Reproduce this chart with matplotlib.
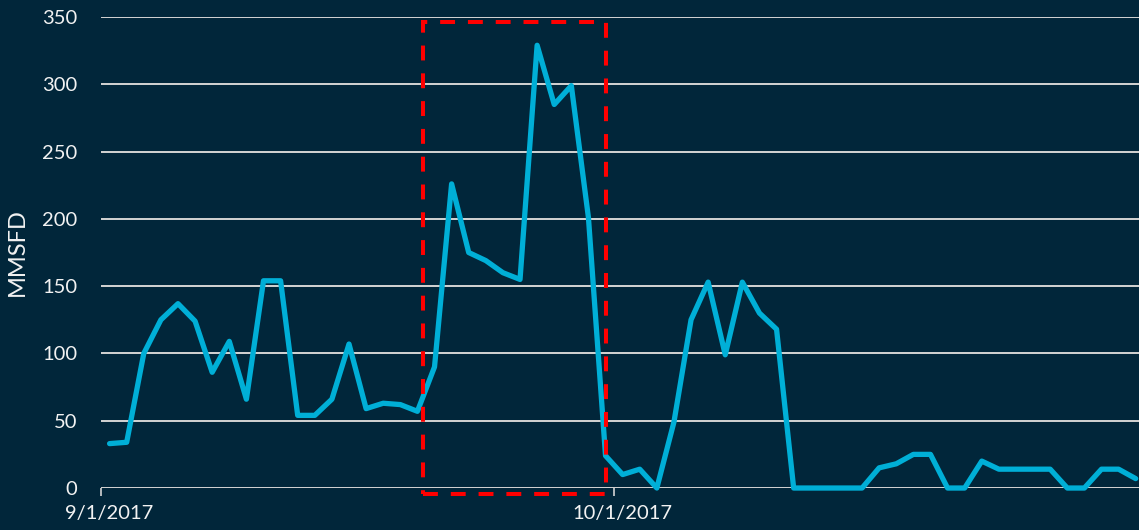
import pandas as pd
import matplotlib.pyplot as plt
import matplotlib.dates as mdates
import matplotlib.transforms as mtransforms
from matplotlib.patches import Rectangle

# daily flow, 9/1/2017 - 10/31/2017
start = "2017-09-01"
mmsfd = [33, 34, 100, 125, 137, 124, 86, 109, 66, 154,
         154, 54, 54, 66, 107, 59, 63, 62, 57, 90,
         226, 175, 169, 160, 155, 329, 285, 299, 201, 24,
         10, 14, 0, 49, 125, 153, 99, 153, 130, 118,
         0, 0, 0, 0, 0, 15, 18, 25, 25, 0,
         0, 20, 14, 14, 14, 14, 0, 0, 14, 14, 7]
xtick_dates = ["2017-09-01", "2017-10-01"]
yticks = [0, 50, 100, 150, 200, 250, 300, 350]
highlight = ("2017-09-19 20:00", "2017-09-30 12:00")

bg = "#01263A"
line_c = "#00AFD7"
grid_c = "#D4D4D4"
text_c = "#F2F2F2"


def main():
    dates = pd.date_range(start, periods=len(mmsfd), freq="D") + pd.Timedelta(hours=12)

    fig = plt.figure(figsize=(11.39, 5.30), dpi=100, facecolor=bg)
    ax = fig.add_axes([0.0887, 0.0792, 0.918, 0.8887], facecolor=bg)

    ax.plot(dates, mmsfd, color=line_c, lw=3.8, solid_joinstyle="round",
            solid_capstyle="round", clip_on=False, zorder=3)

    x0 = mdates.date2num(pd.Timestamp(start))
    ax.set_xlim(x0, x0 + 61.14)
    ax.set_ylim(0, 350)
    ax.set_yticks(yticks)
    ax.grid(axis="y", color=grid_c, lw=1.4)
    ax.set_axisbelow(True)

    ax.set_xticks(pd.to_datetime(xtick_dates))
    ax.xaxis.set_major_formatter(mdates.DateFormatter("%-m/%-d/%Y"))

    for s in ax.spines.values():
        s.set_visible(False)
    ax.tick_params(axis="y", length=0, pad=17, labelsize=14.5, labelcolor=text_c)
    ax.tick_params(axis="x", length=6, width=1.2, color=grid_c, pad=6,
                   labelsize=14.5, labelcolor=text_c)
    # Excel puts the date labels half a day to the right of the tick
    shift = mtransforms.ScaledTranslation(8 / 100, 0, fig.dpi_scale_trans)
    for lab in ax.get_xticklabels():
        lab.set_fontfamily("Lato")
        lab.set_transform(lab.get_transform() + shift)
    for lab in ax.get_yticklabels():
        lab.set_fontfamily("Lato")

    ax.set_ylabel("MMSFD", color=text_c, fontsize=17, family="Lato", labelpad=10)

    h0 = mdates.date2num(pd.Timestamp(highlight[0]))
    h1 = mdates.date2num(pd.Timestamp(highlight[1]))
    rect = Rectangle((h0, -4.5), h1 - h0, 350.8, fill=False, ec="#FF0000",
                     lw=2.9, ls=(0, (3.7, 3.2)), clip_on=False, zorder=4)
    ax.add_patch(rect)

    fig.savefig("out.png", dpi=100, facecolor=bg)


if __name__ == '__main__':
    main()
